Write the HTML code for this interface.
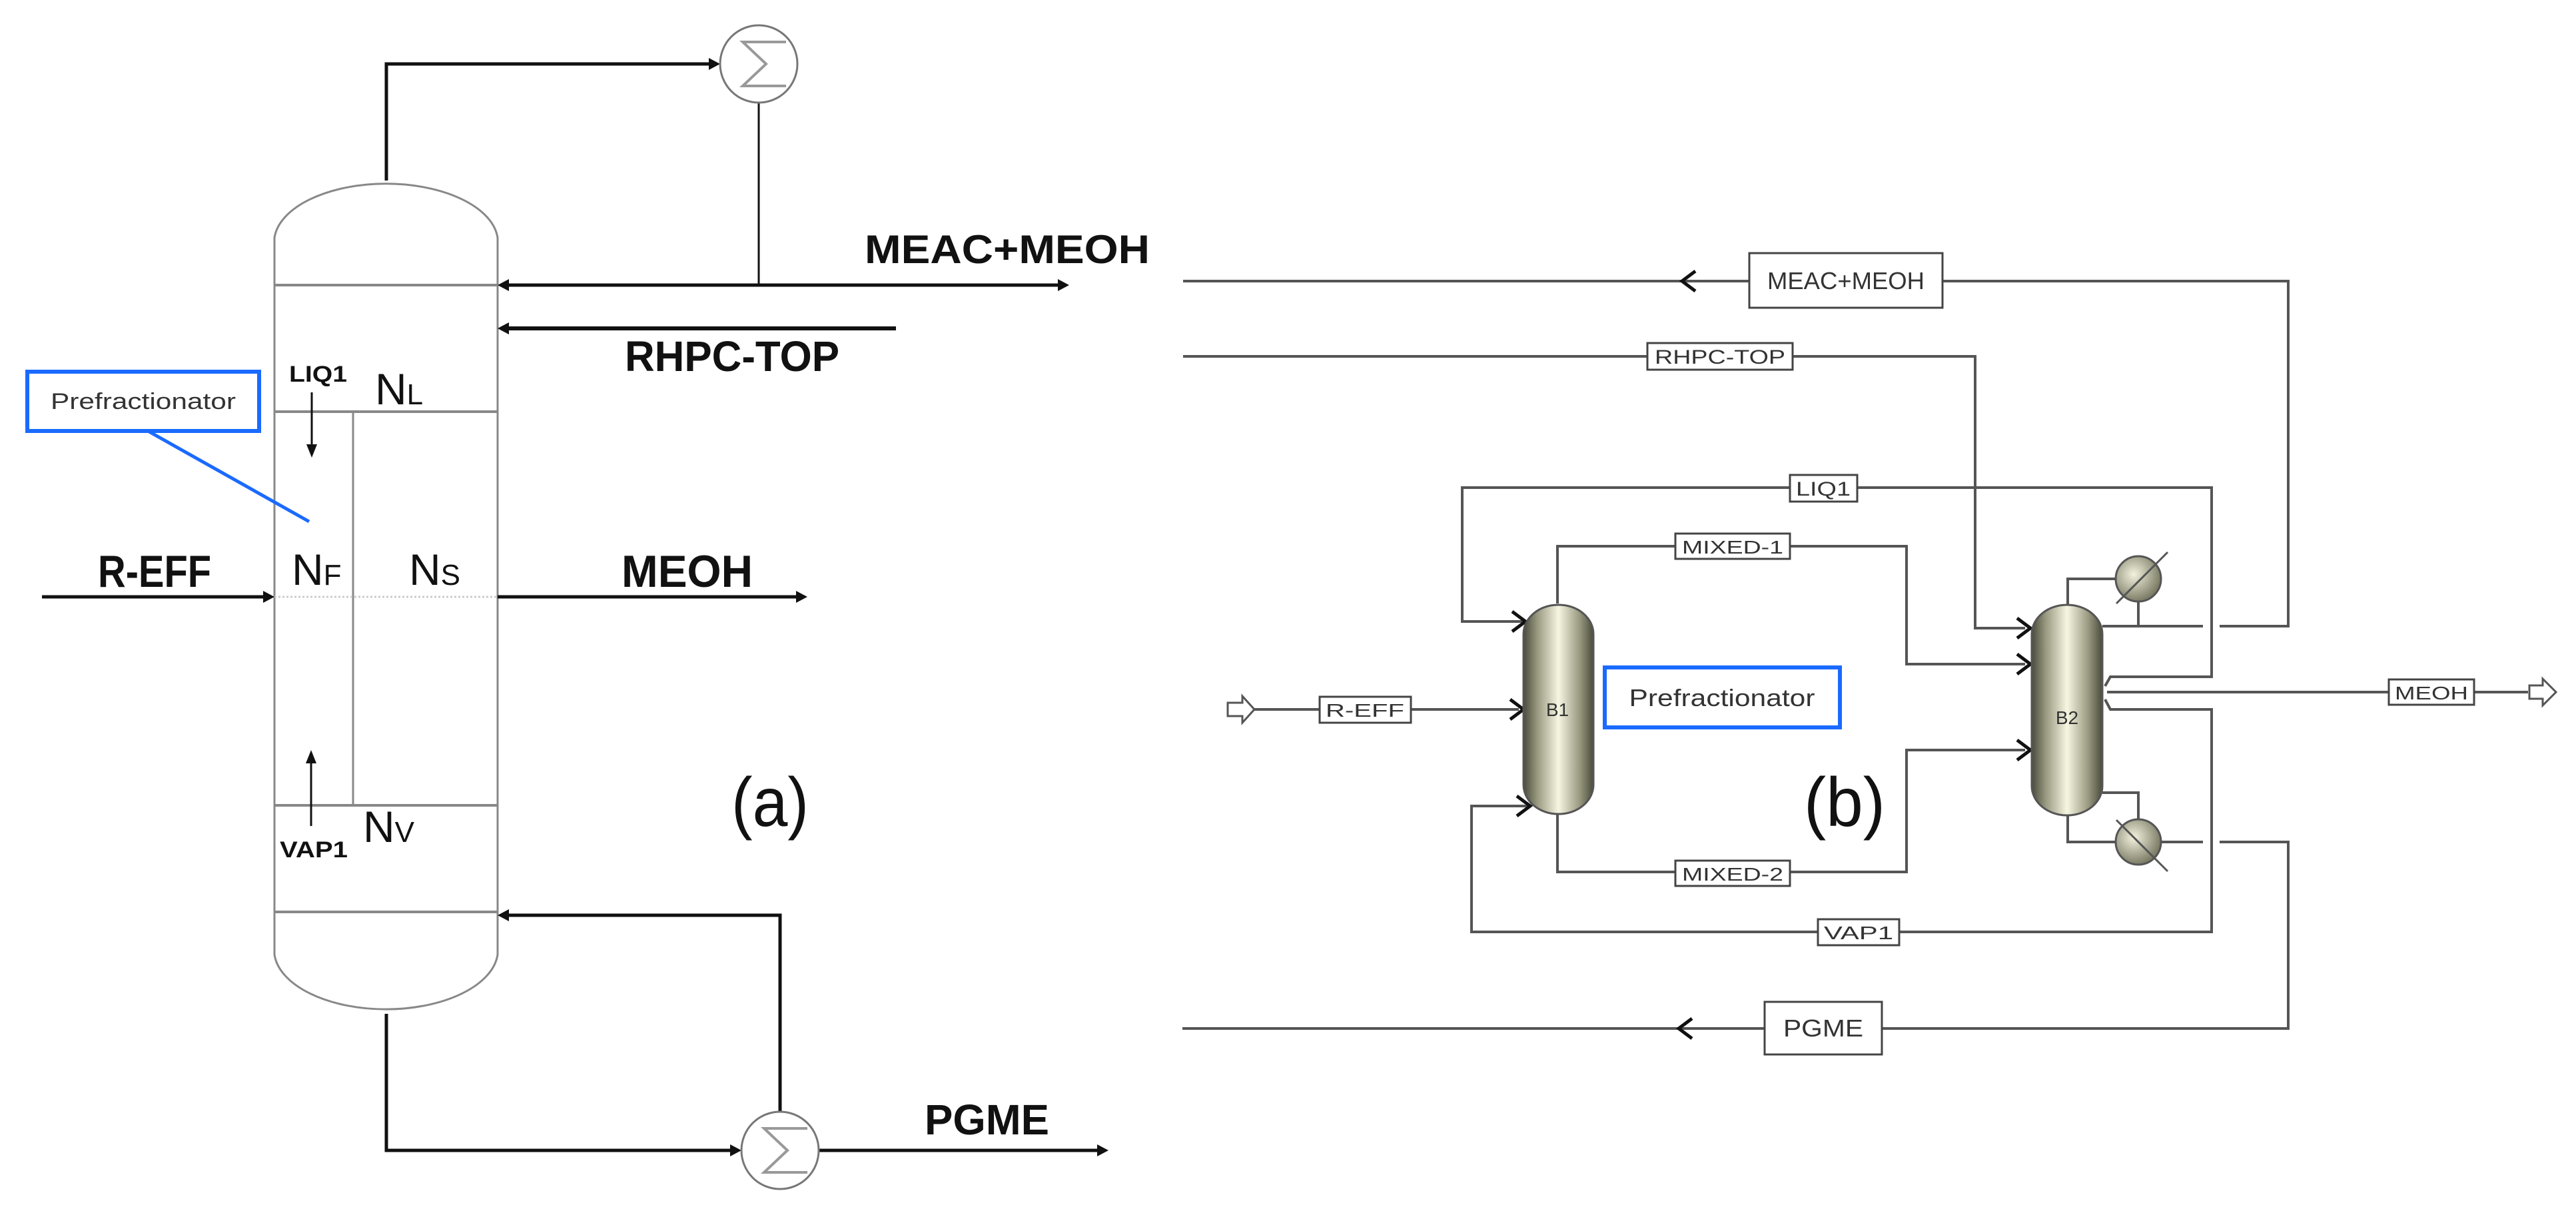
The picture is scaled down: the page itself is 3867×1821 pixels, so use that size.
<!DOCTYPE html>
<html><head><meta charset="utf-8"><style>
html,body{margin:0;padding:0;background:#fff;}
svg{display:block;}
</style></head><body>
<svg width="3867" height="1821" viewBox="0 0 3867 1821" xmlns="http://www.w3.org/2000/svg">
<defs>
<linearGradient id="col" x1="0" y1="0" x2="1" y2="0">
<stop offset="0" stop-color="#4a4a3a"/><stop offset="0.2" stop-color="#9a9a82"/><stop offset="0.5" stop-color="#f6f6e2"/><stop offset="0.8" stop-color="#9a9a82"/><stop offset="1" stop-color="#4a4a3a"/>
</linearGradient>
<radialGradient id="hx" cx="0.4" cy="0.4" r="0.6">
<stop offset="0" stop-color="#f2f2de"/><stop offset="1" stop-color="#7c7c66"/>
</radialGradient>
</defs>
<rect width="3867" height="1821" fill="#fff"/>

<!-- ===== LEFT (a) ===== -->
<g fill="none" stroke="#888" stroke-width="3">
<path d="M412,1433 L412,357 A168,88 0 0 1 747,357 L747,1433 A168,89 0 0 1 412,1433 Z"/>
<line x1="412" y1="428" x2="747" y2="428" stroke-width="4"/>
<line x1="412" y1="618" x2="747" y2="618" stroke-width="4"/>
<line x1="412" y1="1209" x2="747" y2="1209" stroke-width="4"/>
<line x1="412" y1="1369" x2="747" y2="1369" stroke-width="4"/>
<line x1="530" y1="618" x2="530" y2="1209"/>
<line x1="412" y1="896" x2="747" y2="896" stroke="#ccc" stroke-dasharray="3,3"/>
</g>
<g stroke="#111" stroke-width="5" fill="none">
<polyline points="580,271 580,96 1072,96"/>
<line x1="1139" y1="154" x2="1139" y2="428" stroke-width="3"/>
<line x1="752" y1="428" x2="1595" y2="428"/>
<line x1="752" y1="493" x2="1345" y2="493" stroke-width="6"/>
<line x1="63" y1="896" x2="404" y2="896"/>
<line x1="747" y1="896" x2="1202" y2="896"/>
<polyline points="752,1374 1171,1374 1171,1669"/>
<polyline points="580,1522 580,1727 1104,1727"/>
<line x1="1229" y1="1727" x2="1655" y2="1727"/>
<line x1="468" y1="589" x2="468" y2="670" stroke-width="3"/>
<line x1="467" y1="1240" x2="467" y2="1140" stroke-width="3"/>
</g>
<g fill="#111">
<polygon points="1081,96 1064,87 1064,105"/>
<polygon points="747,428 764,419 764,437"/>
<polygon points="1605,428 1588,419 1588,437"/>
<polygon points="747,493 764,484 764,502"/>
<polygon points="412,896 395,887 395,905"/>
<polygon points="1212,896 1195,887 1195,905"/>
<polygon points="747,1374 764,1365 764,1383"/>
<polygon points="1113,1727 1096,1718 1096,1736"/>
<polygon points="1664,1727 1647,1718 1647,1736"/>
<polygon points="468,687 460,667 476,667"/>
<polygon points="467,1126 459,1146 475,1146"/>
</g>
<g fill="#fff" stroke="#777" stroke-width="3">
<circle cx="1139" cy="96" r="58"/>
<circle cx="1171" cy="1727" r="58"/>
</g>
<g fill="none" stroke="#999" stroke-width="4">
<polyline points="1180,63 1115,63 1150,96 1115,129 1180,129"/>
<polyline points="1212,1694 1147,1694 1182,1727 1147,1760 1212,1760"/>
</g>
<rect x="41" y="558" width="348" height="89" fill="none" stroke="#1a6aff" stroke-width="6"/>
<text x="215" y="614" font-family="Liberation Sans, sans-serif" font-size="34" fill="#333" text-anchor="middle" textLength="278" lengthAdjust="spacingAndGlyphs">Prefractionator</text>
<line x1="222" y1="647" x2="464" y2="783" stroke="#1a6aff" stroke-width="5"/>

<g font-family="Liberation Sans, sans-serif" font-weight="bold" fill="#111" lengthAdjust="spacingAndGlyphs">
<text x="1298" y="395" font-size="60" textLength="428" lengthAdjust="spacingAndGlyphs">MEAC+MEOH</text>
<text x="938" y="557" font-size="64" textLength="322" lengthAdjust="spacingAndGlyphs">RHPC-TOP</text>
<text x="434" y="573" font-size="34" textLength="87" lengthAdjust="spacingAndGlyphs">LIQ1</text>
<text x="147" y="881" font-size="68" textLength="170" lengthAdjust="spacingAndGlyphs">R-EFF</text>
<text x="933" y="881" font-size="68" textLength="197" lengthAdjust="spacingAndGlyphs">MEOH</text>
<text x="420" y="1287" font-size="34" textLength="102" lengthAdjust="spacingAndGlyphs">VAP1</text>
<text x="1388" y="1703" font-size="64" textLength="187" lengthAdjust="spacingAndGlyphs">PGME</text>
</g>
<g font-family="Liberation Sans, sans-serif" fill="#111">
<text x="563" y="607" font-size="66">N<tspan font-size="44">L</tspan></text>
<text x="438" y="878" font-size="66">N<tspan font-size="44">F</tspan></text>
<text x="614" y="878" font-size="66">N<tspan font-size="44">S</tspan></text>
<text x="545" y="1264" font-size="66">N<tspan font-size="44">V</tspan></text>
<text x="1098" y="1240" font-size="104" textLength="116" lengthAdjust="spacingAndGlyphs">(a)</text>
<text x="2708" y="1240" font-size="104" textLength="122" lengthAdjust="spacingAndGlyphs">(b)</text>
</g>

<!-- ===== RIGHT (b) ===== -->
<g stroke="#555" stroke-width="4" fill="none">
<polyline points="1776,422 3435,422 3435,940 3332,940"/>
<line x1="3307" y1="940" x2="3156" y2="940"/>
<polyline points="1776,535 2965,535 2965,943 3040,943"/>
<polyline points="2290,933 2195,933 2195,732 3320,732 3320,1016 3168,1016 3160,1030"/>
<polyline points="2338,906 2338,820 2862,820 2862,997 3040,997"/>
<polyline points="1883,1065 2280,1065"/>
<polyline points="2338,1222 2338,1309 2862,1309 2862,1126 3040,1126"/>
<polyline points="2297,1210 2209,1210 2209,1399 3320,1399 3320,1065 3168,1065 3160,1050"/>
<polyline points="3163,1039 3795,1039"/>
<polyline points="1775,1544 3435,1544 3435,1264 3332,1264"/>
<line x1="3307" y1="1264" x2="3244" y2="1264"/>
<polyline points="3104,908 3104,869 3176,869"/>
<line x1="3210" y1="903" x2="3210" y2="940"/>
<polyline points="3104,1224 3104,1264 3176,1264"/>
<polyline points="3156,1190 3210,1190 3210,1230"/>
</g>
<!-- chevron arrows -->
<g stroke="#111" stroke-width="5" fill="none">
<polyline points="2270,918 2290,933 2270,948"/>
<polyline points="2267,1050 2287,1065 2267,1080"/>
<polyline points="2277,1195 2297,1210 2277,1225"/>
<polyline points="3028,928 3048,943 3028,958"/>
<polyline points="3028,982 3048,997 3028,1012"/>
<polyline points="3028,1111 3048,1126 3028,1141"/>
<polyline points="2540,1529 2520,1544 2540,1559"/>
<polyline points="2545,407 2525,422 2545,437"/>
</g>
<!-- columns -->
<rect x="2287" y="908" width="105" height="314" rx="52" ry="44" fill="url(#col)" stroke="#555" stroke-width="3"/>
<rect x="3050" y="908" width="106" height="316" rx="53" ry="44" fill="url(#col)" stroke="#555" stroke-width="3"/>
<g font-family="Liberation Sans, sans-serif" font-size="28" fill="#333" text-anchor="middle">
<text x="2338" y="1075">B1</text>
<text x="3103" y="1087">B2</text>
</g>
<!-- heat exchangers -->
<g stroke="#555" stroke-width="3">
<circle cx="3210" cy="869" r="34" fill="url(#hx)"/>
<circle cx="3210" cy="1264" r="34" fill="url(#hx)"/>
<line x1="3177" y1="906" x2="3254" y2="829"/>
<line x1="3177" y1="1231" x2="3254" y2="1308"/>
</g>
<!-- feed / product block arrows -->
<g fill="#fff" stroke="#555" stroke-width="3">
<polygon points="1843,1055 1865,1055 1865,1045 1883,1065 1865,1085 1865,1075 1843,1075"/>
<polygon points="3797,1029 3817,1029 3817,1019 3837,1039 3817,1059 3817,1049 3797,1049"/>
</g>
<!-- label boxes -->
<g fill="#fff" stroke="#444" stroke-width="3">
<rect x="2626" y="380" width="290" height="82"/>
<rect x="2649" y="1504" width="176" height="79"/>
<rect x="2473" y="515" width="218" height="40"/>
<rect x="2687" y="713" width="101" height="40"/>
<rect x="2515" y="801" width="172" height="38"/>
<rect x="1981" y="1046" width="137" height="39"/>
<rect x="2515" y="1292" width="172" height="38"/>
<rect x="2729" y="1380" width="122" height="39"/>
<rect x="3586" y="1020" width="128" height="38"/>
</g>
<g font-family="Liberation Sans, sans-serif" fill="#333" text-anchor="middle">
<text x="2771" y="434" font-size="36" textLength="236" lengthAdjust="spacingAndGlyphs">MEAC+MEOH</text>
<text x="2737" y="1556" font-size="36" textLength="120" lengthAdjust="spacingAndGlyphs">PGME</text>
<text x="2582" y="546" font-size="30" textLength="196" lengthAdjust="spacingAndGlyphs">RHPC-TOP</text>
<text x="2737" y="744" font-size="30" textLength="82" lengthAdjust="spacingAndGlyphs">LIQ1</text>
<text x="2601" y="831" font-size="28" textLength="152" lengthAdjust="spacingAndGlyphs">MIXED-1</text>
<text x="2049" y="1076" font-size="28" textLength="118" lengthAdjust="spacingAndGlyphs">R-EFF</text>
<text x="2601" y="1322" font-size="28" textLength="152" lengthAdjust="spacingAndGlyphs">MIXED-2</text>
<text x="2790" y="1410" font-size="28" textLength="104" lengthAdjust="spacingAndGlyphs">VAP1</text>
<text x="3650" y="1050" font-size="28" textLength="110" lengthAdjust="spacingAndGlyphs">MEOH</text>
</g>
<rect x="2409" y="1002" width="353" height="90" fill="none" stroke="#1a6aff" stroke-width="6"/>
<text x="2585" y="1060" font-family="Liberation Sans, sans-serif" font-size="36" fill="#333" text-anchor="middle" textLength="279" lengthAdjust="spacingAndGlyphs">Prefractionator</text>
</svg>
</body></html>
